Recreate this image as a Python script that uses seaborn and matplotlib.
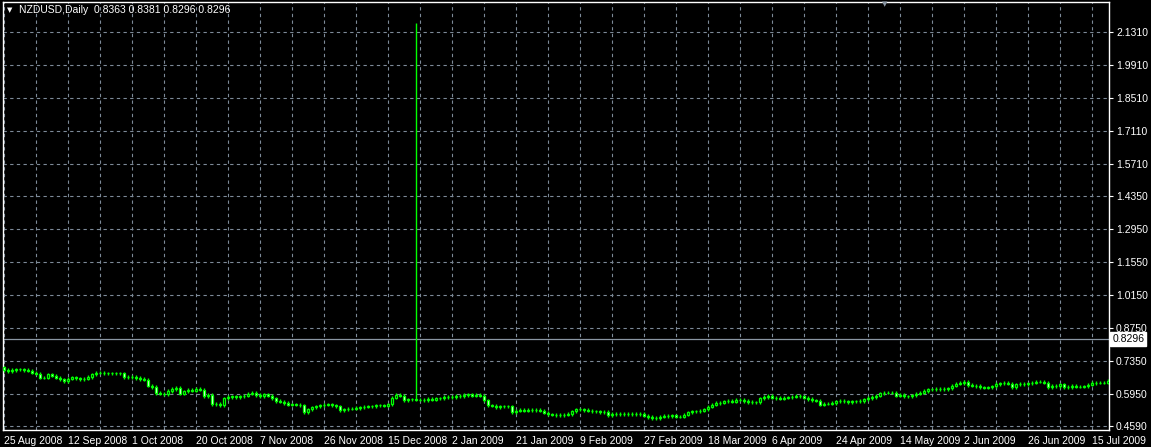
import matplotlib
matplotlib.use("Agg")
import matplotlib.pyplot as plt
import matplotlib.ticker as mticker
import numpy as np
import seaborn as sns

# daily closes, one per bar (Sunday bars included)
close = [
    0.6972, 0.6930, 0.6972, 0.7000, 0.7000, 0.6972, 0.6944, 0.6860, 0.6804, 0.6636,
    0.6636, 0.6776, 0.6720, 0.6636, 0.6566, 0.6496, 0.6594, 0.6650, 0.6608, 0.6566,
    0.6594, 0.6664, 0.6790, 0.6846, 0.6860, 0.6818, 0.6818, 0.6818, 0.6832, 0.6832,
    0.6664, 0.6678, 0.6664, 0.6622, 0.6580, 0.6552, 0.6300, 0.6244, 0.5992, 0.5964,
    0.5936, 0.6076, 0.6160, 0.6202, 0.5964, 0.6062, 0.6132, 0.6090, 0.6174, 0.6132,
    0.5852, 0.5908, 0.5516, 0.5544, 0.5460, 0.5768, 0.5824, 0.5852, 0.5824, 0.5852,
    0.5880, 0.5964, 0.5992, 0.5908, 0.5852, 0.5936, 0.5880, 0.5768, 0.5656, 0.5628,
    0.5572, 0.5488, 0.5516, 0.5488, 0.5460, 0.5180, 0.5292, 0.5376, 0.5432, 0.5460,
    0.5488, 0.5516, 0.5460, 0.5432, 0.5264, 0.5292, 0.5320, 0.5320, 0.5348, 0.5376,
    0.5404, 0.5432, 0.5432, 0.5474, 0.5460, 0.5446, 0.5516, 0.5796, 0.5908, 0.5880,
    0.5684, 0.5726, 0.5726, 0.5712, 0.5712, 0.5698, 0.5740, 0.5712, 0.5768, 0.5768,
    0.5824, 0.5810, 0.5824, 0.5880, 0.5852, 0.5908, 0.5936, 0.5880, 0.5908, 0.5880,
    0.5684, 0.5460, 0.5446, 0.5376, 0.5432, 0.5432, 0.5432, 0.5180, 0.5236, 0.5264,
    0.5236, 0.5264, 0.5264, 0.5264, 0.5236, 0.5152, 0.5082, 0.5068, 0.5040, 0.5054,
    0.5068, 0.5096, 0.5208, 0.5292, 0.5292, 0.5264, 0.5236, 0.5208, 0.5208, 0.5180,
    0.5180, 0.5040, 0.5096, 0.5096, 0.5082, 0.5096, 0.5082, 0.5096, 0.5096, 0.5096,
    0.5026, 0.4970, 0.4928, 0.4928, 0.4984, 0.5012, 0.5012, 0.5040, 0.4984, 0.4984,
    0.5068, 0.5166, 0.5208, 0.5208, 0.5236, 0.5292, 0.5404, 0.5502, 0.5572, 0.5586,
    0.5642, 0.5656, 0.5628, 0.5712, 0.5712, 0.5656, 0.5614, 0.5600, 0.5600, 0.5768,
    0.5824, 0.5880, 0.5796, 0.5782, 0.5754, 0.5796, 0.5810, 0.5838, 0.5866, 0.5852,
    0.5796, 0.5740, 0.5684, 0.5670, 0.5488, 0.5544, 0.5544, 0.5572, 0.5642, 0.5656,
    0.5642, 0.5600, 0.5642, 0.5642, 0.5656, 0.5726, 0.5782, 0.5824, 0.5880, 0.5978,
    0.6006, 0.6006, 0.6006, 0.5880, 0.5908, 0.5852, 0.5852, 0.5894, 0.5964, 0.6006,
    0.6076, 0.6146, 0.6146, 0.6160, 0.6174, 0.6160, 0.6188, 0.6300, 0.6384, 0.6412,
    0.6468, 0.6328, 0.6300, 0.6286, 0.6230, 0.6216, 0.6230, 0.6272, 0.6370, 0.6398,
    0.6412, 0.6384, 0.6244, 0.6356, 0.6370, 0.6356, 0.6398, 0.6426, 0.6468, 0.6468,
    0.6426, 0.6244, 0.6286, 0.6272, 0.6356, 0.6244, 0.6244, 0.6286, 0.6258, 0.6258,
    0.6272, 0.6342, 0.6412, 0.6426, 0.6426, 0.6426, 0.6496,
]
first_open = 0.7084
wick = 0.0070            # wick above/below bodies, ~1.5px
spike_bar = 103
spike_high = 2.169       # bad tick in late Dec 2008

price_ticks = [2.1310, 1.9910, 1.8510, 1.7110, 1.5710, 1.4350, 1.2950,
               1.1550, 1.0150, 0.8750, 0.7350, 0.5950, 0.4590]
date_labels = ["25 Aug 2008", "12 Sep 2008", "1 Oct 2008", "20 Oct 2008",
               "7 Nov 2008", "26 Nov 2008", "15 Dec 2008", "2 Jan 2009",
               "21 Jan 2009", "9 Feb 2009", "27 Feb 2009", "18 Mar 2009",
               "6 Apr 2009", "24 Apr 2009", "14 May 2009", "2 Jun 2009",
               "26 Jun 2009", "15 Jul 2009"]
bars_per_label = 16
last_price = 0.8296
header = "NZDUSD,Daily  0.8363 0.8381 0.8296 0.8296"

sns.set_style("dark", {"axes.facecolor": "black", "figure.facecolor": "black"})
plt.rcParams["font.family"] = ["Liberation Sans", "DejaVu Sans"]

close = np.array(close)
open_ = np.r_[first_open, close[:-1]]
high = np.maximum(open_, close) + wick
low = np.minimum(open_, close) - wick
high[spike_bar] = spike_high
idx = np.arange(len(close))

W, H = 1151, 447
fig = plt.figure(figsize=(W / 100, H / 100), dpi=100, facecolor="black")
ax = fig.add_axes([3 / W, 17 / H, 1106 / W, 428 / H])
ax.set_facecolor("black")

lime = "#00ff00"
grid_c = "#7d8a98"

ax.vlines(idx, low, high, color=lime, lw=1.0, zorder=3)
body_col = np.where(close < open_, "white", "black")
ax.bar(idx, close - open_, bottom=open_, width=0.72, color=body_col,
       edgecolor=lime, linewidth=0.9, zorder=4)

ax.axhline(last_price, color="#8a96a3", lw=0.9, zorder=2)

ax.set_xlim(-0.25, 276.25)
ax.set_ylim(0.4420, 2.2583)

ax.xaxis.set_major_locator(mticker.FixedLocator(np.arange(len(date_labels)) * bars_per_label))
ax.xaxis.set_minor_locator(mticker.MultipleLocator(bars_per_label // 2))
ax.set_xticklabels(date_labels)
for lab in ax.get_xticklabels():
    lab.set_horizontalalignment("left")

ax.yaxis.tick_right()
ax.set_yticks(price_ticks)
ax.yaxis.set_major_formatter(mticker.FormatStrFormatter("%.4f"))

dash = (0, (3, 3))
ax.grid(True, which="major", axis="y", color=grid_c, lw=0.8, ls=dash, zorder=0)
ax.grid(True, which="both", axis="x", color=grid_c, lw=0.8, ls=dash, zorder=0)

ax.tick_params(axis="both", which="major", colors="white", labelsize=7.5, length=3, width=0.8, pad=2)
ax.tick_params(axis="x", which="minor", length=0)
ax.tick_params(axis="x", which="major", pad=1)
for s in ax.spines.values():
    s.set_color("white")
    s.set_linewidth(1)
    s.set_visible(True)

ax.text(1.003, last_price, f"{last_price:.4f}", transform=ax.get_yaxis_transform(),
        color="black", fontsize=7.5, va="center", ha="left",
        bbox=dict(boxstyle="square,pad=0.2", fc="white", ec="white"))

fig.text(7 / W, 1 - 10 / H, "\u25bc", color="white", fontsize=5, va="center",
         family=["DejaVu Sans"])
fig.text(19 / W, 1 - 10 / H, header, color="white", fontsize=7.5, va="center")
fig.text(885 / W, 1 - 4 / H, "\u25bc", color="#8a96a3", fontsize=5, va="center", ha="center",
         family=["DejaVu Sans"])

fig.savefig("out.png", dpi=100, facecolor="black")
